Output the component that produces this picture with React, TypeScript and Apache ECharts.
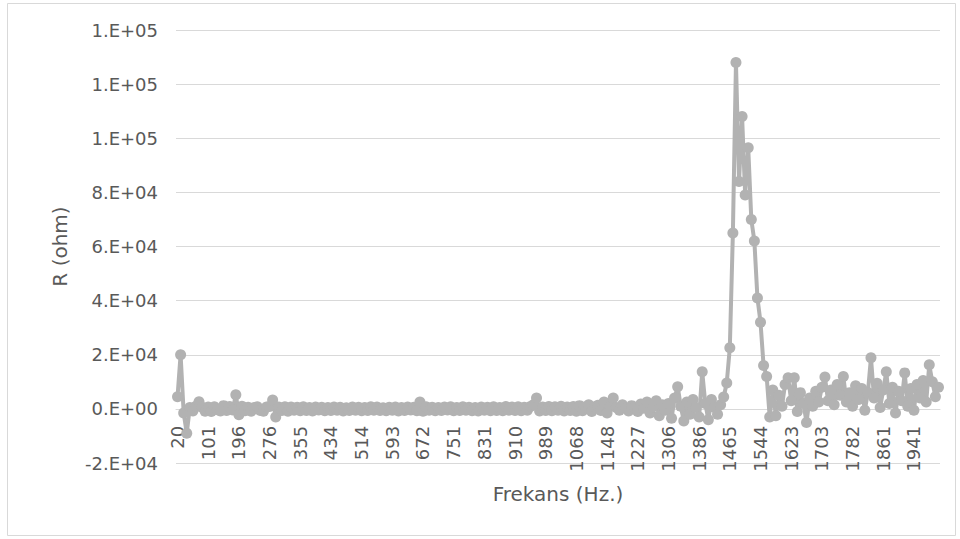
import React, { useEffect, useRef } from "react";
import * as echarts from "echarts";

const frequencies: number[] = [
  20, 28, 36, 44, 52, 60, 68, 76, 84, 92,
  101, 110, 120, 129, 139, 148, 158, 167, 177, 186,
  196, 204, 212, 220, 228, 236, 244, 252, 260, 268,
  276, 284, 292, 300, 308, 316, 323, 331, 339, 347,
  355, 363, 371, 379, 387, 395, 402, 410, 418, 426,
  434, 442, 450, 458, 466, 474, 482, 490, 498, 506,
  514, 522, 530, 538, 546, 554, 561, 569, 577, 585,
  593, 601, 609, 617, 625, 633, 640, 648, 656, 664,
  672, 680, 688, 696, 704, 712, 719, 727, 735, 743,
  751, 759, 767, 775, 783, 791, 799, 807, 815, 823,
  831, 839, 847, 855, 863, 871, 878, 886, 894, 902,
  910, 918, 926, 934, 942, 950, 957, 965, 973, 981,
  989, 997, 1005, 1013, 1021, 1029, 1036, 1044, 1052, 1060,
  1068, 1076, 1084, 1092, 1100, 1108, 1116, 1124, 1132, 1140,
  1148, 1156, 1164, 1172, 1180, 1188, 1195, 1203, 1211, 1219,
  1227, 1235, 1243, 1251, 1259, 1267, 1274, 1282, 1290, 1298,
  1306, 1314, 1322, 1330, 1338, 1346, 1354, 1362, 1370, 1378,
  1386, 1394, 1402, 1410, 1418, 1426, 1433, 1441, 1449, 1457,
  1465, 1473, 1481, 1489, 1497, 1505, 1512, 1520, 1528, 1536,
  1544, 1552, 1560, 1568, 1576, 1584, 1591, 1599, 1607, 1615,
  1623, 1631, 1639, 1647, 1655, 1663, 1671, 1679, 1687, 1695,
  1703, 1711, 1719, 1727, 1735, 1743, 1750, 1758, 1766, 1774,
  1782, 1790, 1798, 1806, 1814, 1822, 1829, 1837, 1845, 1853,
  1861, 1869, 1877, 1885, 1893, 1901, 1909, 1917, 1925, 1933,
  1941, 1948, 1956, 1963, 1970, 1978, 1985, 1993, 2000,
];

const resistance: number[] = [
  4500, 20000, -1500, -9000, 500, -800, 1000, 2600, 600, -900,
  700, -1000, 800, -300, -800, 1200, -600, 900, -400, 5200,
  -2200, 1000, -700, 600, -900, 500, 800, -600, -900, 700,
  900, 3300, -3000, 700, -600, 800, -900, 700, -500, 600,
  -700, 800, -600, 500, -800, 700, -400, 600, -700, 500,
  -600, 700, -500, 600, -800, 400, -600, 700, -500, 600,
  -700, 500, -600, 800, -500, 700, -600, 400, -700, 600,
  -500, 700, -800, 500, -600, 700, -400, 600, -700, 2500,
  -900, 800, -500, 600, -700, 500, -600, 700, -400, 800,
  -700, 500, -600, 800, -500, 600, -700, 500, -800, 700,
  -500, 600, -700, 800, -600, 500, -700, 900, -500, 700,
  -600, 800, -700, 600, -500, 900, 1500, 4000, -800, 700,
  -600, 900, -700, 800, -500, 1000, -800, 700, -600, 900,
  -900, 1200, -700, 800, 1500, -1000, 800, 1300, -600, 2500,
  -1500, 1000, 4000, 500, -500, 1500, 300, -800, 1200, 600,
  -1000, 1800, 200, 2500, -1500, 800, 3000, -2500, 1500, -500,
  2000, -3500, 4000, 8200, 1000, -4500, 2500, -2000, 3500, 500,
  -3000, 13700, 2000, -4000, 3500, 500, -2000, 1500, 4400, 9600,
  22600, 65000, 128000, 84000, 108000, 79000, 96500, 70000, 62000, 41000,
  32000, 16000, 12000, -3000, 7000, -2500, 5000, 1000, 9000, 11500,
  3000, 11500, -1000, 6000, 2000, -5000, 4000, 1000, 6500, 2500,
  8000, 11800, 3000, 7000, 1500, 9000, 5000, 12000, 2500, 6000,
  1000, 8500, 3500, 7500, -500, 6000, 18900, 4000, 9500, 500,
  7000, 13700, 2000, 8000, -1500, 6500, 3000, 13300, 1000, 7500,
  -500, 9000, 4000, 10500, 2500, 16300, 10000, 4500, 8000,
];

const yMin = -20000;
const yMax = 140000;
const yStep = 20000;
const yTickLabels: string[] = [
  "-2.E+04", "0.E+00", "2.E+04", "4.E+04", "6.E+04",
  "8.E+04", "1.E+05", "1.E+05", "1.E+05",
];

const xTitle = "Frekans (Hz.)";
const yTitle = "R (ohm)";

const FONT = "'DejaVu Sans', Verdana, sans-serif";
const TEXT = "#595959";
const GRID = "#D9D9D9";
const SERIES = "#B2B2B2";

const GRID_TOP = 30;
const GRID_BOTTOM_PX = 463;
const PLOT_H = GRID_BOTTOM_PX - GRID_TOP;
// distance from plot bottom up to the zero line (axis crosses at 0, like Excel)
const ZERO_SHIFT = (PLOT_H * (0 - yMin)) / (yMax - yMin);

export default function App() {
  const ref = useRef<HTMLDivElement>(null);

  useEffect(() => {
    if (!ref.current) return;
    const chart = echarts.init(ref.current, undefined, { renderer: "svg" });
    chart.setOption({
      animation: false,
      backgroundColor: "#ffffff",
      graphic: [
        {
          type: "rect",
          shape: { x: 7.5, y: 3.5, width: 948, height: 532 },
          style: { fill: "none", stroke: GRID, lineWidth: 1 },
          silent: true,
        },
      ],
      grid: {
        left: 176,
        right: 20,
        top: GRID_TOP,
        bottom: 539 - GRID_BOTTOM_PX,
        containLabel: false,
        outerBoundsMode: "none",
      },
      xAxis: {
        type: "category",
        data: frequencies.map(String),
        boundaryGap: true,
        position: "bottom",
        offset: -ZERO_SHIFT,
        name: xTitle,
        nameLocation: "middle",
        nameGap: 75,
        nameTextStyle: { fontFamily: FONT, fontSize: 20, color: TEXT },
        axisLine: { show: true, onZero: false, lineStyle: { color: GRID, width: 1 } },
        axisTick: { show: false },
        axisLabel: {
          interval: 9,
          rotate: 90,
          margin: 17,
          fontFamily: FONT,
          fontSize: 18,
          color: TEXT,
        },
        splitLine: { show: false },
      },
      yAxis: {
        type: "value",
        min: yMin,
        max: yMax,
        interval: yStep,
        name: yTitle,
        nameLocation: "middle",
        nameGap: 106,
        nameTextStyle: { fontFamily: FONT, fontSize: 20, color: TEXT },
        axisLine: { show: false },
        axisTick: { show: false },
        axisLabel: {
          margin: 18,
          fontFamily: FONT,
          fontSize: 18,
          color: TEXT,
          formatter: (v: number) => yTickLabels[Math.round((v - yMin) / yStep)] ?? "",
        },
        splitLine: { show: true, lineStyle: { color: GRID, width: 1 } },
      },
      series: [
        {
          type: "line",
          data: resistance,
          symbol: "circle",
          symbolSize: 11,
          showSymbol: true,
          showAllSymbol: true,
          lineStyle: { color: SERIES, width: 4 },
          itemStyle: { color: SERIES, borderWidth: 0 },
          emphasis: { disabled: true },
        },
      ],
    });
    return () => chart.dispose();
  }, []);

  return (
    <div
      style={{
        position: "absolute",
        left: 0,
        top: 0,
        width: 960,
        height: 539,
        background: "#ffffff",
      }}
    >
      <div ref={ref} style={{ width: 960, height: 539 }} />
    </div>
  );
}
